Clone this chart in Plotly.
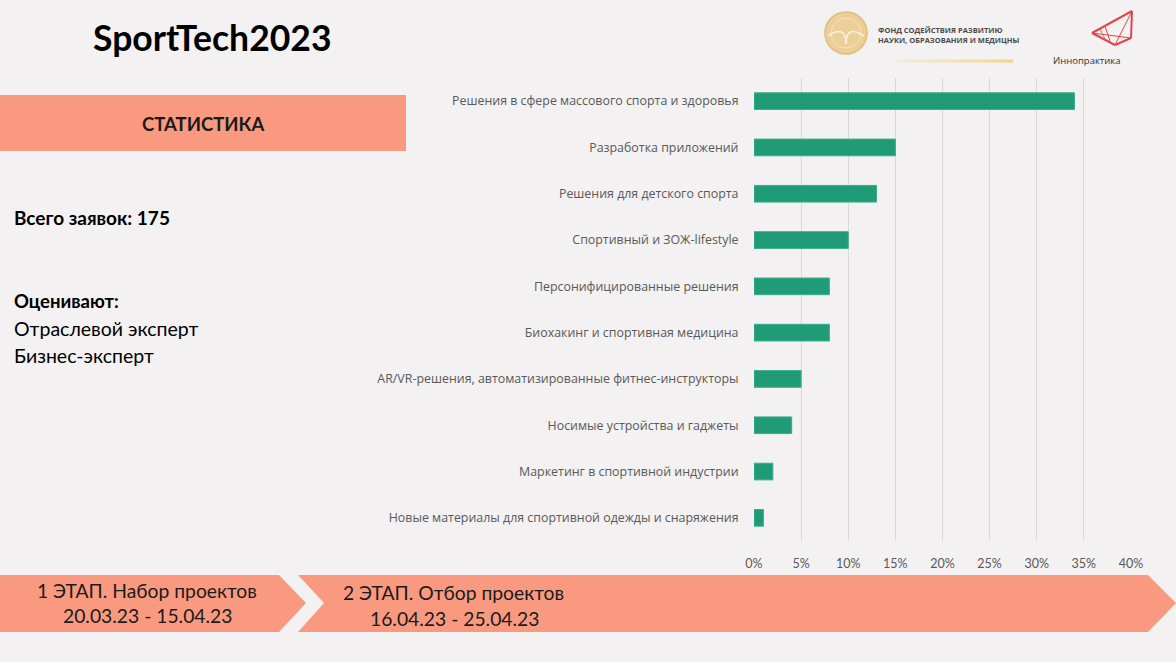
import plotly.graph_objects as go

W, H = 1176, 662

categories = [
    "Решения в сфере массового спорта и здоровья",
    "Разработка приложений",
    "Решения для детского спорта",
    "Спортивный и ЗОЖ-lifestyle",
    "Персонифицированные решения",
    "Биохакинг и спортивная медицина",
    "AR/VR-решения, автоматизированные фитнес-инструкторы",
    "Носимые устройства и гаджеты",
    "Маркетинг в спортивной индустрии",
    "Новые материалы для спортивной одежды и снаряжения",
]
shares = [0.34, 0.15, 0.13, 0.10, 0.08, 0.08, 0.05, 0.04, 0.02, 0.01]
tick_vals = [0, 0.05, 0.10, 0.15, 0.20, 0.25, 0.30, 0.35, 0.40]
tick_text = ["0%", "5%", "10%", "15%", "20%", "25%", "30%", "35%", "40%"]

BG = "#f3f1f1"
SALMON = "#f99a80"
GREEN = "#1f9c77"


def px(x):
    return x / W


def py(y):
    return 1 - y / H


fig = go.Figure()
fig.add_trace(go.Bar(
    x=shares, y=categories, orientation="h",
    marker=dict(color=GREEN, line=dict(color="#3aae8a", width=1)),
    hoverinfo="x+y",
))

fig.update_layout(
    width=W, height=H,
    autosize=False,
    margin=dict(l=0, r=0, t=0, b=0, pad=0, autoexpand=False),
    paper_bgcolor=BG, plot_bgcolor=BG,
    showlegend=False,
    bargap=0.64,
    font=dict(family="Open Sans", color="#595959", size=12),
    xaxis=dict(
        domain=[px(754), px(1131)], range=[0, 0.40],
        tickvals=tick_vals, ticktext=tick_text,
        showgrid=True, gridcolor="#d9d9d9", gridwidth=1,
        zeroline=False, showline=False, automargin=False,
        ticks="outside", ticklen=11, tickcolor="rgba(0,0,0,0)",
        tickfont=dict(family="Lato", size=12.5, color="#595959"),
        fixedrange=True,
    ),
    yaxis=dict(
        domain=[py(541), py(78)],
        autorange="reversed", automargin=False,
        showgrid=False, zeroline=False, showline=False,
        ticks="outside", ticklen=12, tickcolor="rgba(0,0,0,0)",
        tickfont=dict(family="Open Sans", size=12.4, color="#595959"),
        fixedrange=True,
    ),
)

shapes = []
# STATISTICS header band
shapes.append(dict(type="rect", xref="paper", yref="paper",
                   x0=px(0), x1=px(406), y0=py(151), y1=py(95),
                   fillcolor=SALMON, line=dict(width=0), layer="below"))


def path(points):
    return "M " + " L ".join(f"{px(a):.5f},{py(b):.5f}" for a, b in points) + " Z"


# stage arrows
shapes.append(dict(type="path", xref="paper", yref="paper",
                   path=path([(0, 575), (279, 575), (306, 603), (279, 632), (0, 632)]),
                   fillcolor=SALMON, line=dict(width=0)))
shapes.append(dict(type="path", xref="paper", yref="paper",
                   path=path([(298, 575), (1148, 575), (1176, 603), (1148, 632), (298, 632), (324, 603)]),
                   fillcolor=SALMON, line=dict(width=0)))

# foundation logo (golden circle)
shapes.append(dict(type="circle", xref="paper", yref="paper",
                   x0=px(825), x1=px(867), y0=py(54), y1=py(12),
                   fillcolor="#eccf98", line=dict(color="#e2bd78", width=1.5)))
shapes.append(dict(type="circle", xref="paper", yref="paper",
                   x0=px(831), x1=px(861), y0=py(48), y1=py(18),
                   fillcolor="rgba(0,0,0,0)", line=dict(color="#f6e3bd", width=1)))
for xa in (828, 864):
    shapes.append(dict(type="path", xref="paper", yref="paper",
                       path=f"M {px(xa):.5f},{py(36):.5f} Q {px(846):.5f},{py(24):.5f} {px(846):.5f},{py(44):.5f}",
                       fillcolor="rgba(0,0,0,0)", line=dict(color="#fbf0d8", width=1.5)))
# golden underline fading to the left
n_seg = 12
for i in range(n_seg):
    xa = 897 + (1013 - 897) * i / n_seg
    xb = 897 + (1013 - 897) * (i + 1) / n_seg
    op = 0.15 + 0.85 * (i + 1) / n_seg
    shapes.append(dict(type="line", xref="paper", yref="paper",
                       x0=px(xa), x1=px(xb), y0=py(61), y1=py(61),
                       line=dict(color=f"rgba(240,214,140,{op:.2f})", width=3)))

# Innopraktika logo (red triangle lines)
RED = "#e0474c"


def seg(a, b, w=1.6):
    return dict(type="line", xref="paper", yref="paper",
                x0=px(a[0]), y0=py(a[1]), x1=px(b[0]), y1=py(b[1]),
                line=dict(color=RED, width=w))


tip, tr, rb, bt = (1092, 33), (1132, 11), (1131, 38), (1115, 45)
shapes += [seg(tip, tr, 2), seg(tr, rb, 2), seg(rb, bt, 2), seg(tip, bt, 2), seg(tip, rb, 1.2),
           seg(tr, bt, 1.0), seg((1105, 26), (1110, 41), 1.0), seg((1100, 29), (1106, 41), 0.8)]

fig.update_layout(shapes=shapes)


def ann(text, x, y, size, bold=False, color="#1a1a1a", anchor="left", family="Lato"):
    t = f"<b>{text}</b>" if bold else text
    fig.add_annotation(text=t, xref="paper", yref="paper", x=px(x), y=py(y),
                       xanchor=anchor, yanchor="middle", showarrow=False,
                       font=dict(family=family, size=size, color=color))


ann("SportTech2023", 91, 37, 35.5, bold=True, color="#000000")
ann("СТАТИСТИКА", 203, 124, 18.5, bold=True, anchor="center")
ann("Всего заявок: 175", 12, 217, 19, bold=True, color="#000000")
ann("Оценивают:", 12, 301, 18.5, bold=True, color="#000000")
ann("Отраслевой эксперт", 12, 328, 19.5, color="#000000")
ann("Бизнес-эксперт", 12, 355, 19.5, color="#000000")

ann("1 ЭТАП. Набор проектов", 147, 590, 19.3, anchor="center", color="#1a1a1a")
ann("20.03.23 - 15.04.23", 147, 615, 19.3, anchor="center", color="#1a1a1a")
ann("2 ЭТАП. Отбор проектов", 341, 592, 19.3, color="#1a1a1a")
ann("16.04.23 - 25.04.23", 368, 618, 19.3, color="#1a1a1a")

ann("ФОНД СОДЕЙСТВИЯ РАЗВИТИЮ", 876, 30, 7.5, bold=True, color="#4a4a4a", family="Open Sans")
ann("НАУКИ, ОБРАЗОВАНИЯ И МЕДИЦНЫ", 876, 40, 7.5, bold=True, color="#4a4a4a", family="Open Sans")
ann("Иннопрактика", 1051, 60, 9.5, color="#333333", family="Open Sans")

fig.write_html("out.html")
